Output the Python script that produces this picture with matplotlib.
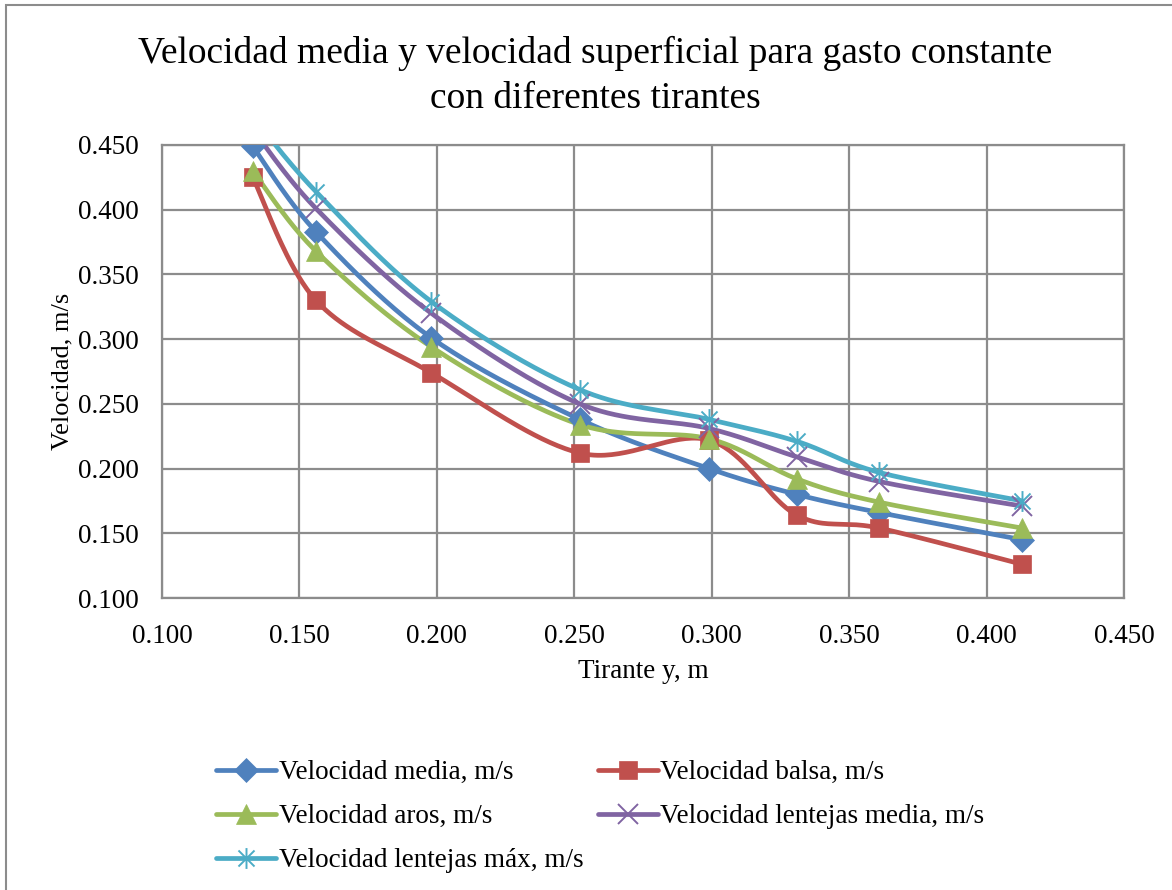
import numpy as np
import matplotlib
matplotlib.use("Agg")
import matplotlib.pyplot as plt
from matplotlib.lines import Line2D
from matplotlib.patches import Rectangle
from matplotlib.path import Path

# Depth (tirante) values, m
tirante = [0.133, 0.156, 0.198, 0.252, 0.299, 0.331, 0.361, 0.413]

# Velocity series, m/s
vel_media = [0.449, 0.383, 0.301, 0.238, 0.200, 0.180, 0.166, 0.145]
vel_balsa = [0.425, 0.330, 0.274, 0.212, 0.222, 0.164, 0.154, 0.126]
vel_aros = [0.430, 0.368, 0.294, 0.234, 0.223, 0.192, 0.174, 0.154]
vel_lent_media = [0.462, 0.401, 0.320, 0.250, 0.231, 0.209, 0.190, 0.171]
vel_lent_max = [0.472, 0.414, 0.329, 0.261, 0.238, 0.221, 0.197, 0.175]

series_labels = [
    "Velocidad media, m/s",
    "Velocidad balsa, m/s",
    "Velocidad aros, m/s",
    "Velocidad lentejas media, m/s",
    "Velocidad lentejas máx, m/s",
]
series_colors = ["#4F81BD", "#C0504D", "#9BBB59", "#8064A2", "#4BACC6"]

x_ticks = [0.100, 0.150, 0.200, 0.250, 0.300, 0.350, 0.400, 0.450]
y_ticks = [0.100, 0.150, 0.200, 0.250, 0.300, 0.350, 0.400, 0.450]

XMIN, XMAX, YMIN, YMAX = 0.10, 0.45, 0.10, 0.45

plt.rcParams["font.family"] = ["Liberation Serif", "DejaVu Serif"]

# asterisk marker: an "x" crossed by a vertical stroke
_M, _L = Path.MOVETO, Path.LINETO
star_path = Path([(-1, -1), (1, 1), (-1, 1), (1, -1), (0, -1.3), (0, 1.3)],
                 [_M, _L, _M, _L, _M, _L])

marker_specs = [
    dict(marker="D", markersize=12, markeredgewidth=0.5),
    dict(marker="s", markersize=13, markeredgewidth=0.5),
    dict(marker="^", markersize=14, markeredgewidth=0.5),
    dict(marker="x", markersize=14, markeredgewidth=1.4),
    dict(marker=star_path, markersize=15, markeredgewidth=1.4),
]


def smooth_curve(xs, ys, n=40):
    """Catmull-Rom style cubic Bezier smoothing (in screen-proportional space)."""
    xs = np.asarray(xs, float)
    ys = np.asarray(ys, float)
    xn = (xs - XMIN) / (XMAX - XMIN) * 962.0
    yn = (ys - YMIN) / (YMAX - YMIN) * 453.0
    pts = np.column_stack([xn, yn])
    out = []
    m = len(pts)
    for i in range(m - 1):
        p0 = pts[i - 1] if i > 0 else pts[i]
        p1 = pts[i]
        p2 = pts[i + 1]
        p3 = pts[i + 2] if i + 2 < m else pts[i + 1]
        c1 = p1 + (p2 - p0) / 6.0
        c2 = p2 - (p3 - p1) / 6.0
        t = np.linspace(0, 1, n)[:, None]
        seg = ((1 - t) ** 3) * p1 + 3 * ((1 - t) ** 2) * t * c1 + 3 * (1 - t) * t ** 2 * c2 + t ** 3 * p2
        out.append(seg if i == 0 else seg[1:])
    c = np.vstack(out)
    cx = c[:, 0] / 962.0 * (XMAX - XMIN) + XMIN
    cy = c[:, 1] / 453.0 * (YMAX - YMIN) + YMIN
    return cx, cy


fig = plt.figure(figsize=(11.72, 8.90), dpi=100)
ax = fig.add_axes([162 / 1172, 1 - 598 / 890, (1124 - 162) / 1172, (598 - 145) / 890])

# chart-area frame
fig.patches.append(Rectangle((6 / 1172, -0.01), 1.2, 1 - 5 / 890 + 0.01, transform=fig.transFigure,
                             fill=False, edgecolor="#8C8C8C", linewidth=1.5))

all_series = [vel_media, vel_balsa, vel_aros, vel_lent_media, vel_lent_max]
handles = []
for ys, col, spec in zip(all_series, series_colors, marker_specs):
    cx, cy = smooth_curve(tirante, ys)
    ax.plot(cx, cy, color=col, linewidth=3.4, solid_capstyle="round", zorder=3)
    ax.plot(tirante, ys, linestyle="none", color=col, markeredgecolor=col, zorder=4, **spec)
    handles.append(Line2D([0], [0], color=col, linewidth=3.4, solid_capstyle="round",
                          markeredgecolor=col, **spec))

ax.set_xlim(XMIN, XMAX)
ax.set_ylim(YMIN, YMAX)
ax.set_xticks(x_ticks)
ax.set_yticks(y_ticks)
ax.set_xticklabels([f"{v:.3f}" for v in x_ticks])
ax.set_yticklabels([f"{v:.3f}" for v in y_ticks])
ax.tick_params(axis="y", length=0, labelsize=19.5, pad=17)
ax.tick_params(axis="x", length=0, labelsize=19.5, pad=19)
ax.grid(True, color="#8C8C8C", linewidth=1.6)
ax.set_axisbelow(True)
for s in ax.spines.values():
    s.set_color("#8C8C8C")
    s.set_linewidth(1.6)

ax.set_xlabel("Tirante y, m", fontsize=19.5, labelpad=7)
ax.set_ylabel("Velocidad, m/s", fontsize=19, labelpad=3)

fig.text(595 / 1172, 1 - 76 / 890,
         "Velocidad media y velocidad superficial para gasto constante\ncon diferentes tirantes",
         ha="center", va="center", fontsize=27, linespacing=1.4)

# legend filled row by row
order = [0, 2, 4, 1, 3]
leg = fig.legend([handles[i] for i in order], [series_labels[i] for i in order],
                 loc="upper left", bbox_to_anchor=(192 / 1172, 1 - 736 / 890),
                 ncol=2, frameon=False, fontsize=19.5, handlelength=2.2, handletextpad=0.1,
                 columnspacing=0.55, labelspacing=0.7)

fig.savefig("out.png", dpi=100)
